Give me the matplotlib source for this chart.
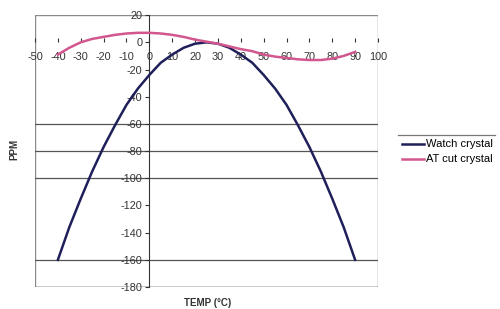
import numpy as np
import matplotlib.pyplot as plt
from matplotlib.lines import Line2D
from matplotlib.patches import Rectangle

plt.rcParams['font.family'] = ['Liberation Sans', 'DejaVu Sans']
plt.rcParams['axes.unicode_minus'] = False

temp = [-40, -35, -30, -25, -20, -15, -10, -5, 0, 5, 10, 15, 20, 25,
        30, 35, 40, 45, 50, 55, 60, 65, 70, 75, 80, 85, 90]
watch = [-160, -136, -115, -95, -77, -61, -46, -34, -24, -15, -9, -4, -1, 0,
         -1, -4, -9, -15, -24, -34, -46, -61, -77, -95, -115, -136, -160]
at_cut = [-9, -4, 0, 2.5, 4, 5.5, 6.5, 7, 7, 6.5, 5.5, 4, 2, 0.5,
          -1, -3, -5, -6.5, -9, -10.5, -11.5, -12.5, -13, -13, -12, -10, -7]
grid_levels = [-60, -80, -100, -160]

fig = plt.figure(figsize=(5, 3.09), dpi=100)
ax = fig.add_axes([0.07, 0.071, 0.686, 0.880])

for g in grid_levels:
    ax.axhline(g, color='#555555', lw=0.9, zorder=1)

ax.plot(temp, watch, color='#1f1f5a', lw=1.8, label='Watch crystal', zorder=3)
ax.plot(temp, at_cut, color='#d2578f', lw=1.8, label='AT cut crystal', zorder=3)

ax.set_xlim(-50, 100)
ax.set_ylim(-180, 20)
ax.set_xticks(np.arange(-50, 101, 10))
ax.set_yticks(np.arange(-180, 21, 20))

ax.spines['left'].set_position(('data', 0))
ax.spines['bottom'].set_position(('data', 0))
ax.spines['bottom'].set_color('none')
ax.spines['left'].set_color('#333333')
ax.spines['top'].set_visible(False)
ax.spines['right'].set_visible(False)
ax.add_patch(Rectangle((0, 0), 1, 1, transform=ax.transAxes, fill=False,
                       edgecolor='#8a8a8a', lw=1.0, zorder=0))
ax.plot([0, 1], [0, 0], transform=ax.transAxes, color='#555555', lw=1.0)

ax.tick_params(axis='x', direction='in', length=3, labelsize=7.8,
               colors='#333333', pad=7)
ax.tick_params(axis='y', direction='out', length=3, labelsize=7.8,
               colors='#333333', pad=2)

fig.text(0.028, 0.515, 'PPM', rotation=90, fontsize=7, fontweight='bold',
         ha='center', va='center', color='#333333')
fig.text(0.415, 0.02, 'TEMP (°C)', fontsize=7, fontweight='bold',
         ha='center', va='center', color='#333333')

fig.legend(loc='upper left', bbox_to_anchor=(0.795, 0.563), frameon=False,
           fontsize=8, handlelength=2.0, handletextpad=0.15,
           labelspacing=0.45, borderaxespad=0)
fig.add_artist(Line2D([0.796, 0.99], [0.563, 0.563], color='#777777', lw=0.9))

fig.savefig('out.png', dpi=100)
